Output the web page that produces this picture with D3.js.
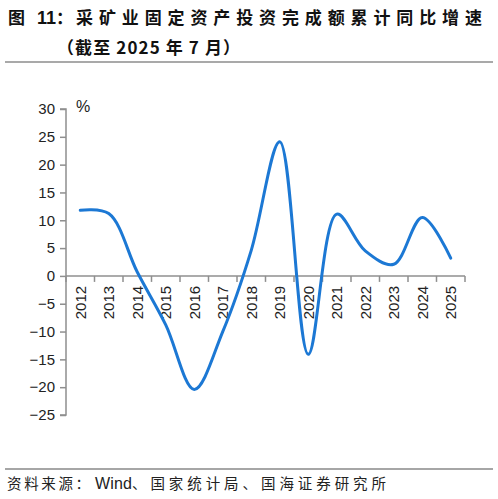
<!DOCTYPE html>
<html><head><meta charset="utf-8">
<script src="https://cdn.jsdelivr.net/npm/d3@7"></script>
<style>
html,body{margin:0;padding:0;background:#fff;}
svg{display:block;}
</style></head>
<body>
<svg id="c" width="498" height="499"></svg>
<script>
const years = ["2012","2013","2014","2015","2016","2017","2018","2019","2020","2021","2022","2023","2024","2025"];
const growth = [11.8, 11.2, 0.7, -8.8, -20.4, -10.0, 4.6, 24.1, -14.1, 11.1, 4.5, 2.1, 10.5, 3.2];
const yTicks = [30,25,20,15,10,5,0,-5,-10,-15,-20,-25];
const titleFig = "图";
const titleNum = "11";
const titleColon = "：";
const titleMain = "采矿业固定资产投资完成额累计同比增速";
const titleLine2 = "（截至 2025 年 7 月）";
const sourceHead = "资料来源：";
const sourceWind = "Wind";
const sourceTail = "、国家统计局、国海证券研究所";
const unitLabel = "%";

const svg = d3.select("#c");
const x = d3.scaleBand().domain(years).range([66, 465]);
const y = d3.scaleLinear().domain([-25, 30]).range([415, 109]);
const axisColor = "#8f8f8f";
const font = "'Liberation Sans', Arial, sans-serif";
const cjk = "'Noto Sans CJK SC', 'Liberation Sans', sans-serif";

// Title line 1
const t1 = svg.append("g").attr("font-weight", "bold").attr("font-size", 17).attr("fill", "#111");
t1.append("text").attr("x", 8).attr("y", 24).attr("font-family", cjk).text(titleFig);
t1.append("text").attr("x", 37).attr("y", 24).attr("font-family", font).attr("font-size", 18).text(titleNum);
t1.append("text").attr("x", 56).attr("y", 24).attr("font-family", cjk).text(titleColon);
t1.append("text").attr("x", 76).attr("y", 24).attr("font-family", cjk)
  .attr("textLength", 406).attr("lengthAdjust", "spacing").text(titleMain);
// Title line 2
svg.append("text").attr("x", 57).attr("y", 54)
  .attr("font-family", cjk).attr("font-weight", "bold").attr("font-size", 17)
  .attr("fill", "#111").attr("textLength", 183).attr("lengthAdjust", "spacing")
  .text(titleLine2);
svg.append("line").attr("x1", 5).attr("x2", 493).attr("y1", 62).attr("y2", 62)
  .attr("stroke", "#555").attr("stroke-width", 1.2);

// Footer
svg.append("line").attr("x1", 5).attr("x2", 493).attr("y1", 469).attr("y2", 469)
  .attr("stroke", "#888").attr("stroke-width", 1.5);
const ft = svg.append("g").attr("font-size", 14.5).attr("fill", "#222");
ft.append("text").attr("x", 7).attr("y", 489).attr("font-family", cjk)
  .attr("textLength", 83).attr("lengthAdjust", "spacing").text(sourceHead);
ft.append("text").attr("x", 95).attr("y", 489).attr("font-family", font).attr("font-size", 16)
  .attr("textLength", 37).attr("lengthAdjust", "spacing").text(sourceWind);
ft.append("text").attr("x", 132).attr("y", 489).attr("font-family", cjk)
  .attr("textLength", 254).attr("lengthAdjust", "spacing").text(sourceTail);

// Y axis
const yAxis = d3.axisLeft(y).tickValues(yTicks).tickSize(6).tickPadding(5).tickFormat(d3.format("d"));
const gy = svg.append("g").attr("transform", "translate(66,0)").call(yAxis);
gy.select(".domain").attr("stroke", axisColor).attr("stroke-width", 1.5).attr("d", `M-6,${y(30)}H0V${y(-25)}H-6`);
gy.selectAll(".tick line").attr("stroke", axisColor).attr("stroke-width", 1.5);
gy.selectAll(".tick text").attr("font-family", font).attr("font-size", 15).attr("fill", "#222");

// X axis at zero
const gx = svg.append("g").attr("transform", `translate(0,${y(0)})`);
gx.append("line").attr("x1", x.range()[0]).attr("x2", x.range()[1]).attr("y1", 0).attr("y2", 0)
  .attr("stroke", axisColor).attr("stroke-width", 1.5);
const bounds = years.map(d => x(d)).concat([x.range()[1]]);
gx.selectAll("line.tk").data(bounds).enter().append("line").attr("class", "tk")
  .attr("x1", d => d).attr("x2", d => d).attr("y1", 0).attr("y2", 6)
  .attr("stroke", axisColor).attr("stroke-width", 1.5);
gx.selectAll("text").data(years).enter().append("text")
  .attr("transform", d => `translate(${x(d) + x.bandwidth() / 2},10) rotate(-90)`)
  .attr("text-anchor", "end").attr("dy", "0.35em")
  .attr("font-family", font).attr("font-size", 15).attr("fill", "#222")
  .text(d => d);

// Unit label
svg.append("text").attr("x", 76).attr("y", 112)
  .attr("font-family", font).attr("font-size", 16).attr("fill", "#222").text(unitLabel);

// Line
const line = d3.line()
  .x((d, i) => x(years[i]) + x.bandwidth() / 2)
  .y(d => y(d))
  .curve(d3.curveCatmullRom.alpha(0.5));
svg.append("path").datum(growth).attr("d", line)
  .attr("fill", "none").attr("stroke", "#1c78d4").attr("stroke-width", 3)
  .attr("stroke-linejoin", "round").attr("stroke-linecap", "round");
</script>
</body></html>
